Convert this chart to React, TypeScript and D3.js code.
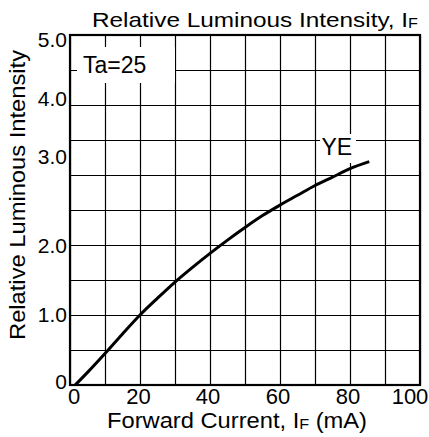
import React from "react";
import * as d3 from "d3";

// ---- data ----
const currentMA = [1.5, 5, 10, 15, 20, 25, 30, 35, 40, 45, 50, 55, 60, 65, 70, 75, 80, 85.5];
const relIntensity = [0, 0.18, 0.45, 0.73, 1.0, 1.24, 1.47, 1.68, 1.88, 2.07, 2.25, 2.42, 2.57, 2.71, 2.85, 2.97, 3.09, 3.19];
const xTickValues = [0, 20, 40, 60, 80, 100];
const xTickLabels = ["0", "20", "40", "60", "80", "100"];
const yTickValues = [0, 1, 2, 3, 4, 5];
const yTickLabels = ["0", "1.0", "2.0", "3.0", "4.0", "5.0"];
const xGridValues = [0, 10, 20, 30, 40, 50, 60, 70, 80, 90, 100];
const yGridValues = [0, 0.5, 1, 1.5, 2, 2.5, 3, 3.5, 4, 4.5, 5];
const seriesName = "YE";
const conditionLabel = "Ta=25";
const titleMain = "Relative Luminous Intensity, I";
const titleSub = "F";
const xTitleMain = "Forward Current, I";
const xTitleSub = "F";
const xTitleTail = " (mA)";
const yTitle = "Relative Luminous Intensity";

const W = 429;
const H = 437;
const FONT = "'Liberation Sans', Arial, Helvetica, sans-serif";

export default function App() {
  const x = d3.scaleLinear().domain([0, 100]).range([70, 420]);
  const y = d3.scaleLinear().domain([0, 5]).range([385, 35]);
  const pts = currentMA.map((c, i) => [c, relIntensity[i]] as [number, number]);
  const line = d3
    .line<[number, number]>()
    .x((d) => x(d[0]))
    .y((d) => y(d[1]))
    .curve(d3.curveMonotoneX);

  const yLabelDy = [-3, 0, 1, -18, -6, 5];
  const xLabelDx = [4, -1.5, -2, -2, -2, -10];

  return (
    <svg
      width={W}
      height={H}
      style={{ position: "absolute", left: 0, top: 0, background: "#fff" }}
      fontFamily={FONT}
    >
      <rect x={0} y={0} width={W} height={H} fill="#fff" />
      {/* grid */}
      {xGridValues.map((v) => {
        const px = Math.round(x(v)) + 0.5;
        return (
          <line
            key={"gx" + v}
            x1={px}
            x2={px}
            y1={y(5)}
            y2={y(0)}
            stroke="#000"
            strokeWidth={1.2}
          />
        );
      })}
      {yGridValues.map((v) => {
        const py = Math.round(y(v)) + 0.5;
        return (
          <line
            key={"gy" + v}
            x1={x(0)}
            x2={x(100)}
            y1={py}
            y2={py}
            stroke="#000"
            strokeWidth={1.2}
          />
        );
      })}
      {/* label backgrounds */}
      <rect x={77} y={47} width={98} height={36} fill="#fff" />
      <rect x={320} y={134} width={36} height={29} fill="#fff" />
      {/* frame */}
      <rect
        x={x(0)}
        y={y(5)}
        width={x(100) - x(0)}
        height={y(0) - y(5)}
        fill="none"
        stroke="#000"
        strokeWidth={2.2}
      />
      {/* curve */}
      <path d={line(pts) || ""} fill="none" stroke="#000" strokeWidth={3} />
      {/* annotations */}
      <text x={83} y={73} fontSize={23} fill="#000">
        {conditionLabel}
      </text>
      <text x={321.5} y={155} fontSize={23} fill="#000">
        {seriesName}
      </text>
      {/* y tick labels */}
      {yTickValues.map((v, i) => (
        <text
          key={"yt" + v}
          x={67}
          y={y(v) + yLabelDy[i]}
          dy="0.35em"
          textAnchor="end"
          fontSize={21}
          fill="#000"
        >
          {yTickLabels[i]}
        </text>
      ))}
      {/* x tick labels */}
      {xTickValues.map((v, i) => (
        <text
          key={"xt" + v}
          x={x(v) + xLabelDx[i]}
          y={404}
          textAnchor="middle"
          fontSize={22}
          fill="#000"
        >
          {xTickLabels[i]}
        </text>
      ))}
      {/* title */}
      <text x={92} y={27} fontSize={21} fill="#000" textLength={326} lengthAdjust="spacingAndGlyphs">
        {titleMain}
        <tspan fontSize={14} dy={1}>{titleSub}</tspan>
      </text>
      {/* x title */}
      <text x={107} y={428} fontSize={22} fill="#000" textLength={260} lengthAdjust="spacingAndGlyphs">
        {xTitleMain}
        <tspan fontSize={15} dy={1}>{xTitleSub}</tspan>
        <tspan dy={-1}>{xTitleTail}</tspan>
      </text>
      {/* y title */}
      <text
        transform={`translate(25,195) rotate(-90)`}
        textAnchor="middle"
        fontSize={22}
        fill="#000"
        textLength={290}
        lengthAdjust="spacingAndGlyphs"
      >
        {yTitle}
      </text>
    </svg>
  );
}
